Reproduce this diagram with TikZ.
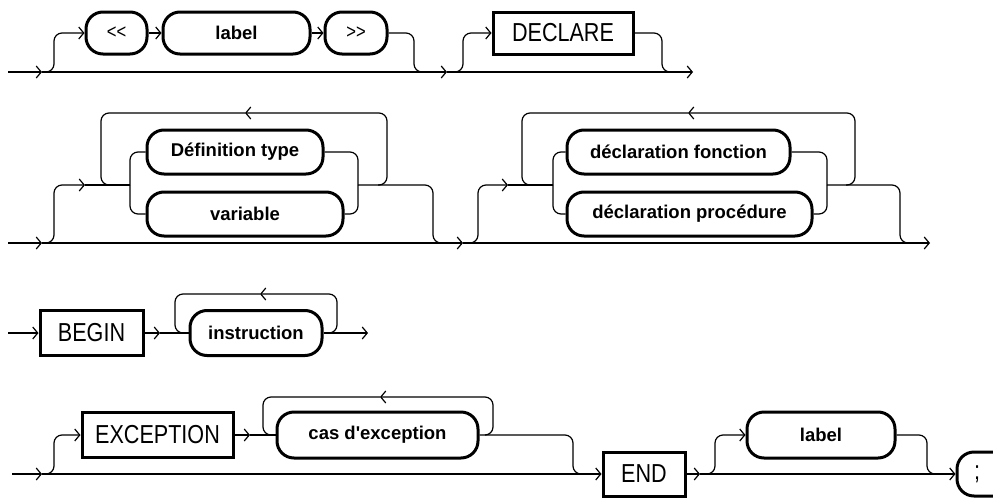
\documentclass[tikz,border=0pt]{standalone}
\usepackage{fontspec}
\setmainfont{Liberation Sans}
\newfontfamily\boxfont[FakeStretch=0.83]{Liberation Sans}
\usetikzlibrary{arrows.meta}
\begin{document}
\begin{tikzpicture}[x=1pt,y=-1pt,
  conn/.style={line width=1.2pt, rounded corners=8},
  arr/.style={-{Straight Barb[length=5pt,width=12pt]}},
  oval/.style={draw, line width=3pt, rounded corners=17, inner sep=0pt,
    font=\fontsize{18.5}{20}\selectfont\bfseries},
  tok/.style={oval, font=\boxfont\fontsize{20}{22}\selectfont},
  kw/.style={draw, line width=3pt, inner sep=0pt,
    font=\boxfont\fontsize{26}{28}\selectfont}
]
\useasboundingbox (0,0) rectangle (993,498);
\fill[white] (0,0) rectangle (993,498);

% ---------- row 1: optional label, optional DECLARE ----------
\coordinate (r1s) at (8,72);
\coordinate (r1a) at (42,72);
\coordinate (r1b) at (45,72);
\coordinate (r1j) at (423,72);
\coordinate (r1c) at (447,72);
\coordinate (r1d) at (455,72);
\coordinate (r1k) at (670,72);
\coordinate (r1e) at (693,72);
\node[tok, minimum width=61, minimum height=42] (lt) at (116.5,33) {{<}{<}};
\node[oval, minimum width=147, minimum height=42] (lab1) at (236.5,33) {label};
\node[tok, minimum width=62, minimum height=42] (gt) at (356,33) {{>}{>}};
\node[kw, minimum width=140, minimum height=42] (decl) at (563,33) {DECLARE};

\draw[conn,arr] (r1s) -- (r1a);
\draw[conn,arr] (r1a) -- (r1c);
\draw[conn,arr] (r1c) -- (r1e);
\draw[conn,arr] (r1b) -| (54,33) -- (lt.west);
\draw[conn,arr] (lt) -- (lab1);
\draw[conn,arr] (lab1) -- (gt);
\draw[conn] (gt.east) -| (414,72) -- (r1j);
\draw[conn,arr] (r1d) -| (463,33) -- (decl.west);
\draw[conn] (decl.east) -| (662,72) -- (r1k);

% ---------- row 2: declarations ----------
\coordinate (r2s) at (8,243);
\coordinate (r2a) at (42,243);
\coordinate (r2b) at (45,243);
\coordinate (r2m) at (85,185);
\coordinate (r2sp) at (130,185);
\coordinate (r2mg) at (358,185);
\coordinate (r2j) at (440,243);
\coordinate (r2c) at (463,243);
\coordinate (r2d) at (468,243);
\coordinate (r2m2) at (508,185);
\coordinate (r2sp2) at (553,185);
\coordinate (r2mg2) at (827,185);
\coordinate (r2k) at (907,243);
\coordinate (r2e) at (930,243);
\coordinate (l1a) at (378,185);
\coordinate (l1m) at (245,113);
\coordinate (l1b) at (110,185);
\coordinate (l2a) at (846,185);
\coordinate (l2m) at (688,113);
\coordinate (l2b) at (531,185);
\node[oval, minimum width=176, minimum height=44] (deft) at (235,152) {Définition type};
\node[oval, minimum width=196, minimum height=44] (var) at (245,214) {variable};
\node[oval, minimum width=223, minimum height=44] (dfon) at (678.5,152) {déclaration fonction};
\node[oval, minimum width=245, minimum height=44] (dproc) at (689.5,214) {déclaration procédure};

\draw[conn,arr] (r2s) -- (r2a);
\draw[conn,arr] (r2a) -- (r2c);
\draw[conn,arr] (r2c) -- (r2e);
% left group
\draw[conn,arr] (r2b) -| (54,185) -- (r2m);
\draw[conn] (r2m) -- (r2sp);
\draw[conn] (r2sp) |- (deft.west);
\draw[conn] (r2sp) |- (var.west);
\draw[conn] (deft.east) -| (r2mg);
\draw[conn] (var.east) -| (r2mg);
\draw[conn] (r2mg) -| (433,243) -- (r2j);
\draw[conn,arr] (l1a) -| (387,113) -- (l1m);
\draw[conn] (l1m) -| (101,185) -- (l1b);
% right group
\draw[conn,arr] (r2d) -| (478,185) -- (r2m2);
\draw[conn] (r2m2) -- (r2sp2);
\draw[conn] (r2sp2) |- (dfon.west);
\draw[conn] (r2sp2) |- (dproc.west);
\draw[conn] (dfon.east) -| (r2mg2);
\draw[conn] (dproc.east) -| (r2mg2);
\draw[conn] (r2mg2) -| (900,243) -- (r2k);
\draw[conn,arr] (l2a) -| (855,113) -- (l2m);
\draw[conn] (l2m) -| (522,185) -- (l2b);

% ---------- row 3: BEGIN instructions ----------
\coordinate (r3s) at (8,333);
\coordinate (r3a) at (160,333);
\coordinate (r3e) at (368,333);
\coordinate (l3a) at (329,333);
\coordinate (l3m) at (260,294);
\coordinate (l3b) at (183,333);
\node[kw, minimum width=103, minimum height=45] (begin) at (91.5,333) {BEGIN};
\node[oval, minimum width=132, minimum height=45] (instr) at (256,333) {instruction};

\draw[conn,arr] (r3s) -- (begin.west);
\draw[conn,arr] (begin.east) -- (r3a);
\draw[conn] (r3a) -- (instr.west);
\draw[conn,arr] (instr.east) -- (r3e);
\draw[conn,arr] (l3a) -| (337,294) -- (l3m);
\draw[conn] (l3m) -| (175,333) -- (l3b);

% ---------- row 4: EXCEPTION, END, label ; ----------
\coordinate (r4s) at (12,474);
\coordinate (r4a) at (42,474);
\coordinate (r4b) at (45,474);
\coordinate (r4m) at (250,435);
\coordinate (r4j) at (580,474);
\coordinate (r4c) at (700,474);
\coordinate (r4d) at (703,474);
\coordinate (r4k) at (934,474);
\coordinate (l4a) at (485,435);
\coordinate (l4m) at (380,397);
\coordinate (l4b) at (271,435);
\node[kw, minimum width=151, minimum height=45] (exc) at (157.5,435) {EXCEPTION};
\node[oval, minimum width=201, minimum height=46] (cas) at (377.5,435) {cas d\textquotesingle exception};
\node[kw, minimum width=82, minimum height=44] (endk) at (644,474) {END};
\node[oval, minimum width=148, minimum height=46] (lab2) at (821,435) {label};
\node[tok, minimum width=62, minimum height=44, font=\boxfont\fontsize{26}{28}\selectfont]
  (semi) at (988,474) {;\kern22pt};

\draw[conn,arr] (r4s) -- (r4a);
\draw[conn,arr] (r4a) -- (endk.west);
\draw[conn,arr] (r4b) -| (54,435) -- (exc.west);
\draw[conn,arr] (exc.east) -- (r4m);
\draw[conn] (r4m) -- (cas.west);
\draw[conn,arr] (l4a) -| (493,397) -- (l4m);
\draw[conn] (l4m) -| (263,435) -- (l4b);
\draw[conn] (cas.east) -| (573,474) -- (r4j);
\draw[conn,arr] (endk.east) -- (r4c);
\draw[conn,arr] (r4c) -- (semi.west);
\draw[conn,arr] (r4d) -| (715,435) -- (lab2.west);
\draw[conn] (lab2.east) -| (927,474) -- (r4k);
\end{tikzpicture}
\end{document}
